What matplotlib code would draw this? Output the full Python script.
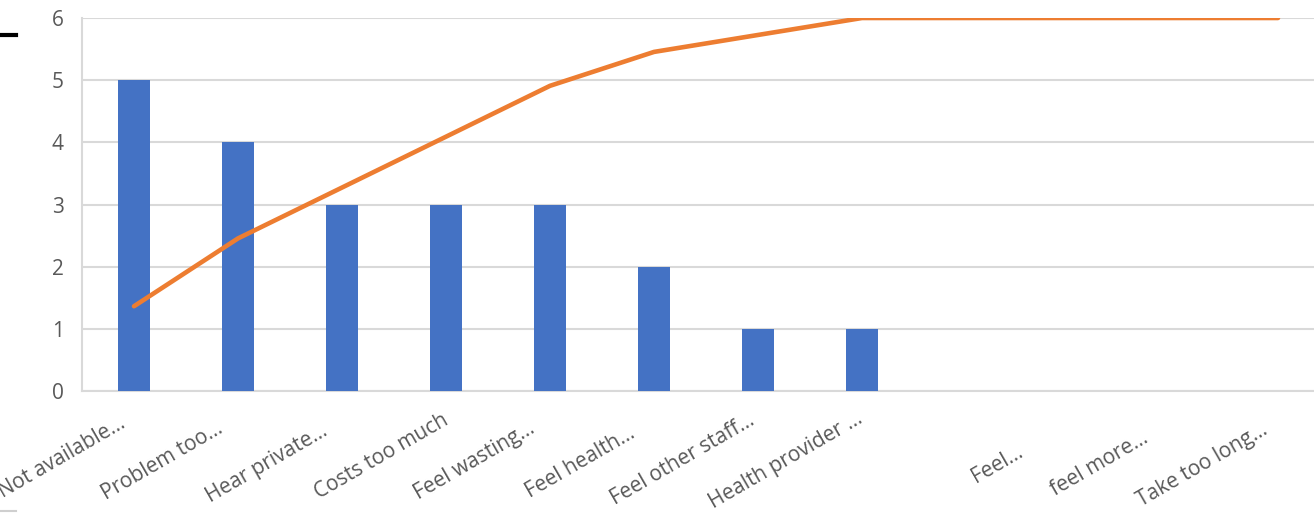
import matplotlib.pyplot as plt
import matplotlib.transforms as mtransforms
from matplotlib.lines import Line2D
import numpy as np

# Reasons given, with how many times each was mentioned (sorted, Pareto style)
reasons = ["Not available...", "Problem too...", "Hear private...", "Costs too much",
           "Feel wasting...", "Feel health...", "Feel other staff...", "Health provider ...",
           "", "Feel...", "feel more...", "Take too long..."]
counts = [5, 4, 3, 3, 3, 2, 1, 1, 0, 0, 0, 0]

# shift (px) of each category label; wrapped labels sit lower and further left
label_shift = {0: (-15, -5), 1: (-22, -10), 2: (-21, -13), 3: (-4, -2),
               4: (-22, -10), 5: (-26, -15), 6: (-10, -2), 7: (-6, 0),
               9: (-54, -34), 10: (-33, -20), 11: (-17, -12)}

cum_share = np.cumsum(counts) / np.sum(counts)

plt.rcParams['font.family'] = ['Open Sans', 'DejaVu Sans']
grey_txt = '#595959'
grid_col = '#d9d9d9'

fig = plt.figure(figsize=(13.14, 5.13), dpi=100)
ax = fig.add_axes([0.0624, 0.2378, 0.9498, 0.7271])
x = np.arange(len(reasons))

ax.bar(x, counts, width=0.31, color='#4472C4', zorder=3)
ax.set_xlim(-0.5, len(reasons) - 0.5)
ax.set_ylim(0, 6)
ax.set_yticks(range(0, 7))
ax.grid(axis='y', color=grid_col, lw=1.5, zorder=0)
for s in ['top', 'right']:
    ax.spines[s].set_visible(False)
ax.spines['left'].set_color(grid_col)
ax.spines['left'].set_linewidth(1.5)
ax.spines['bottom'].set_color(grid_col)
ax.spines['bottom'].set_linewidth(1.5)
ax.tick_params(axis='y', length=0, pad=13, labelsize=15, labelcolor=grey_txt)
ax.tick_params(axis='x', length=0, pad=12, labelsize=15, labelcolor=grey_txt)
ax.set_xticks(x)
ax.set_xticklabels(reasons, rotation=30, ha='right', rotation_mode='anchor')
for i, lab in enumerate(ax.get_xticklabels()):
    if i in label_shift:
        dx, dy = label_shift[i]
        lab.set_transform(lab.get_transform() +
                          mtransforms.Affine2D().translate(dx, dy))

# cumulative share on a hidden secondary scale (0..100%)
ax2 = ax.twinx()
ax2.plot(x, cum_share, color='#ED7D31', lw=3.3, solid_capstyle='round', zorder=4)
ax2.set_ylim(0, 1)
ax2.axis('off')

# stray marks along the left edge
fig.add_artist(Line2D([0, 0.012], [0.932, 0.932], color='black', lw=3))
fig.add_artist(Line2D([0, 0.012], [0.004, 0.004], color='#cfcfcf', lw=1.5))

fig.savefig('out.png', dpi=100)
